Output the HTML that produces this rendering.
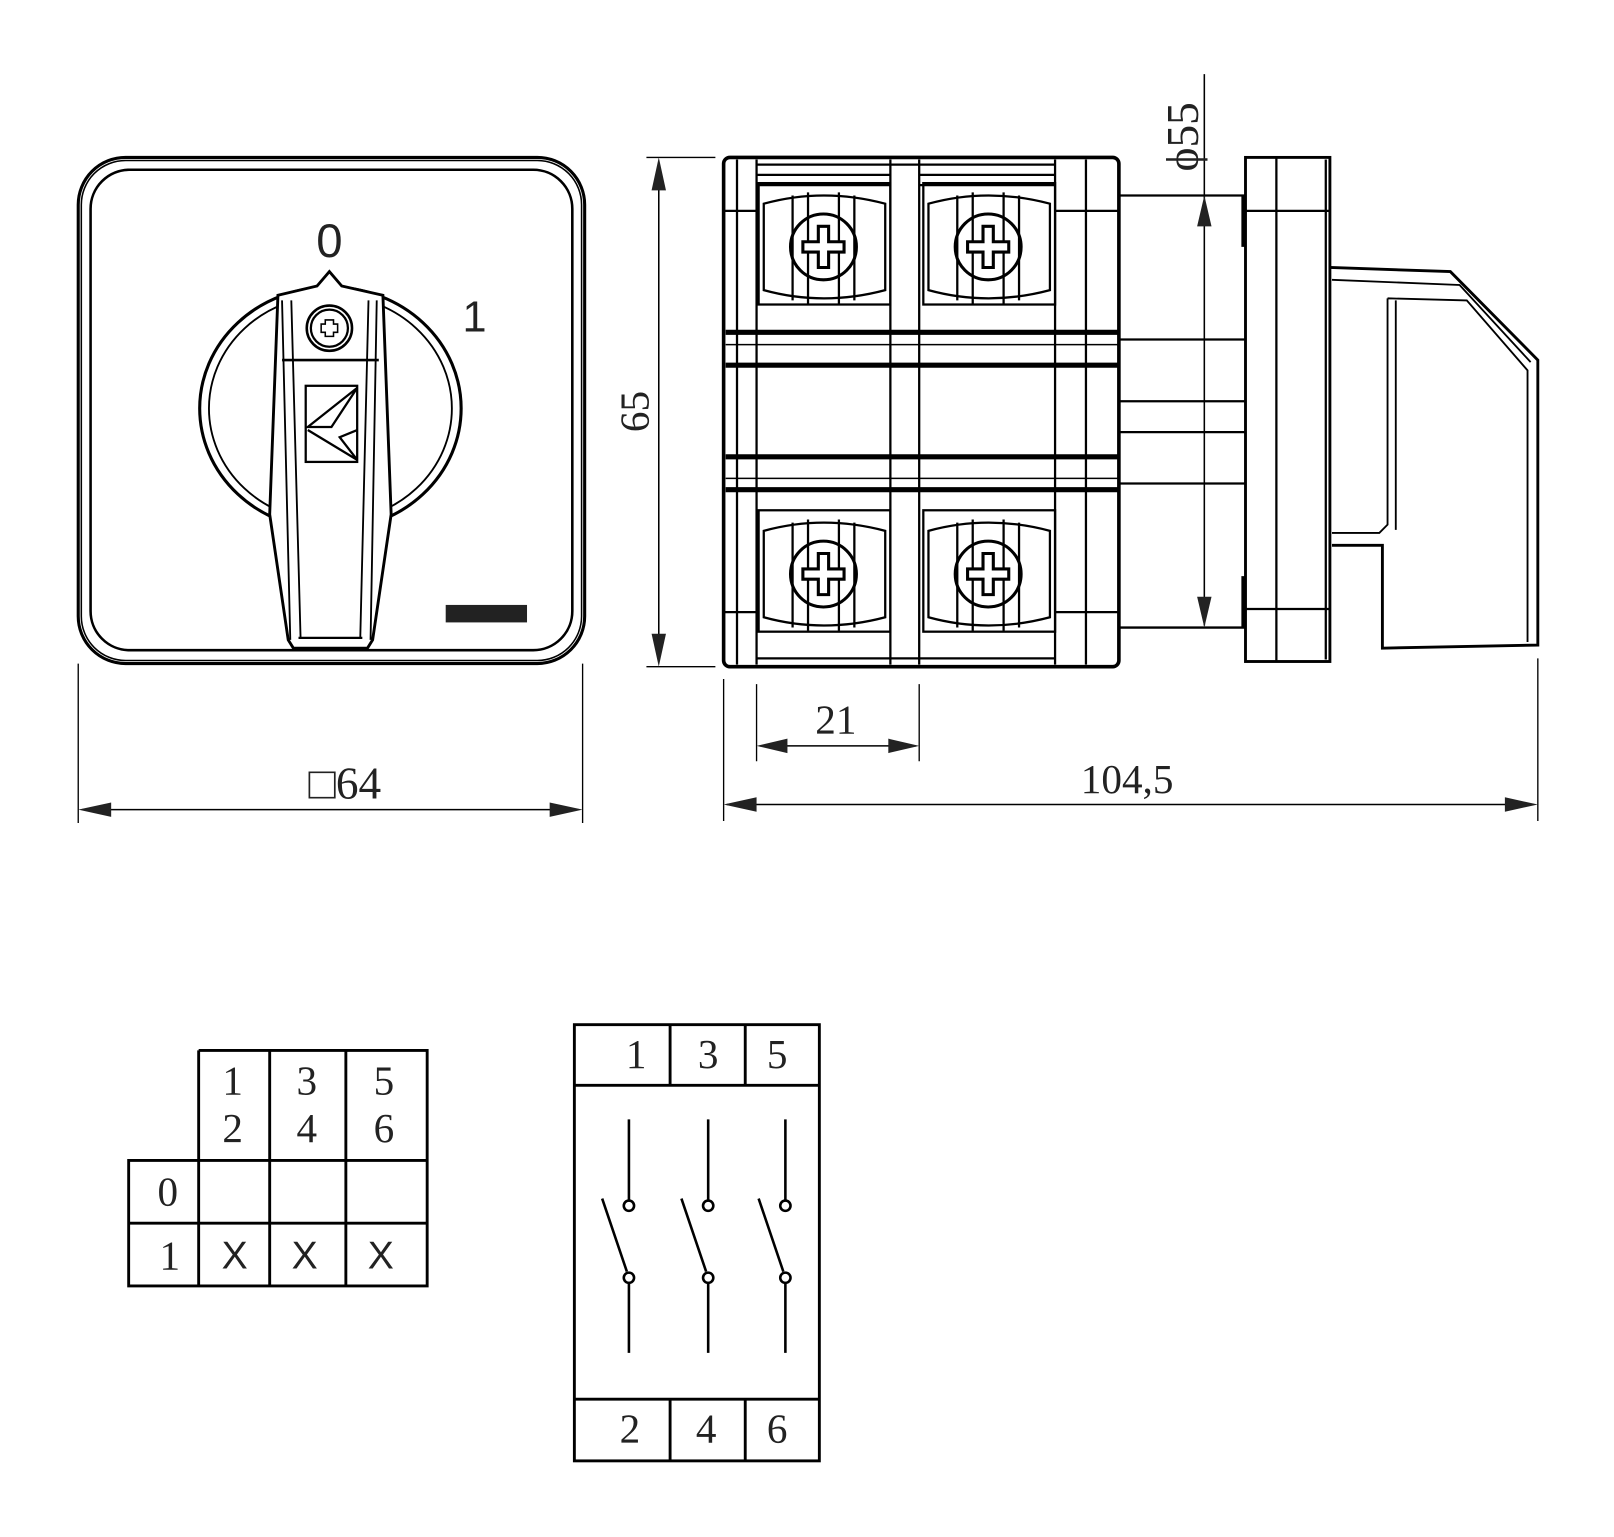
<!DOCTYPE html>
<html><head><meta charset="utf-8"><style>
html,body{margin:0;padding:0;background:#fff;}
svg{display:block;}
text{font-family:"Liberation Serif",serif;fill:#222;}
.s{font-family:"Liberation Sans",sans-serif;}
</style></head><body>
<svg width="1614" height="1537" viewBox="0 0 1568 1494" preserveAspectRatio="none" xmlns="http://www.w3.org/2000/svg">
<g fill="none" stroke="#000" stroke-width="2.2">
<!-- FRONT VIEW -->
<rect x="76" y="153" width="492" height="492" rx="46" stroke-width="3"/>
<rect x="79" y="156" width="486" height="486" rx="43" stroke-width="1.5"/>
<rect x="88" y="165" width="468" height="467" rx="38" stroke-width="2.5"/>
<path d="M76 800 V645 M566 800 V645" stroke-width="1.3"/>
<line x1="80" y1="787" x2="562" y2="787" stroke-width="1.5"/>
<path d="M76 787 L108 780 L108 794 Z M566 787 L534 780 L534 794 Z" fill="#222" stroke="none"/>
<!-- knob -->
<ellipse cx="321" cy="397" rx="127" ry="118" stroke-width="3"/>
<ellipse cx="321" cy="397" rx="118" ry="110" stroke-width="1.8"/>
<path d="M270 287 L308 278 L320 264 L332 278 L372 287 L380 500 L362 622 L357 630 L285 630 L280 622 L262 500 Z" stroke-width="2.8" fill="#fff"/>
<path d="M283 292 L292 620 M358 292 L350 620 M274 292 L282 622 M366 292 L360 622" stroke-width="1.8"/>
<line x1="274" y1="350" x2="368" y2="350" stroke-width="2.5"/>
<line x1="290" y1="620" x2="352" y2="620"/>
<circle cx="320" cy="319" r="22" stroke-width="2.5"/>
<circle cx="320" cy="319" r="18"/>
<path d="M316 311 h8 v4 h4 v8 h-4 v4 h-8 v-4 h-4 v-8 h4 Z" stroke-width="1.5"/>
<rect x="297" y="375" width="50" height="74"/>
<path d="M347 377 L299 415 L322 415 L347 377 M299 418 L347 447 L330 425 L347 418"/>
<rect x="433" y="588" width="79" height="17" fill="#222" stroke="none"/>

<!-- SIDE VIEW -->
<rect x="703" y="153" width="384" height="495" rx="6" stroke-width="3.5"/>
<path d="M716 155 V646 M735 155 V646 M865 155 V646 M893 155 V646 M1025 155 V646 M1055 155 V646"/>
<path d="M735 160 H1025 M735 170 H865 M893 170 H1025 M735 180 H865 M893 180 H1025 M703 205 H735 M1025 205 H1087 M703 595 H735 M1025 595 H1087 M735 640 H1025"/>
<path d="M705 323 H1087 M705 355 H1087 M705 444 H1087 M705 476 H1087" stroke-width="5"/>
<path d="M705 335 H1087 M705 465 H1087" stroke-width="1.5"/>
<!-- terminals -->
<g id="t1">
<rect x="737" y="178" width="128" height="118"/>
<path d="M742 198 Q800 182 860 198 V282 Q800 298 742 282 Z"/>
<path d="M770 190 V292 M785 187 V295 M815 187 V295 M830 190 V292"/>
<circle cx="800" cy="240" r="32" stroke-width="3"/>
<path d="M795 220 h10 v15 h15 v10 h-15 v15 h-10 v-15 h-15 v-10 h15 Z" stroke-width="3" fill="#fff"/>
</g>
<use href="#t1" x="160"/>
<use href="#t1" transform="translate(0,318)"/>
<use href="#t1" transform="translate(160,318)"/>
<!-- shaft -->
<path d="M1087 190 H1210 M1087 610 H1210 M1087 330 H1210 M1087 390 H1210 M1087 420 H1210 M1087 470 H1210"/>
<!-- flange -->
<rect x="1210" y="153" width="82" height="490" stroke-width="2.8"/>
<path d="M1240 153 V643 M1210 205 H1292 M1210 592 H1292 M1288 155 V641"/>
<path d="M1208 190 V240 M1208 560 V610" stroke-width="4"/>
<!-- handle -->
<path d="M1292 260 L1409 264 L1494 350 L1494 627 L1343 630 L1343 530 L1294 530" stroke-width="2.8"/>
<path d="M1294 272 L1418 277 L1487 352 M1348 290 L1425 292 L1484 360 L1484 624 M1348 290 V510 L1340 518 L1294 518 M1356 292 V515" stroke-width="1.8"/>
<!-- dim 65 -->
<path d="M628 153 H695 M628 648 H695" stroke-width="1.3"/>
<line x1="640" y1="158" x2="640" y2="643" stroke-width="1.5"/>
<path d="M640 153 L633 185 L647 185 Z M640 648 L633 616 L647 616 Z" fill="#222" stroke="none"/>
<!-- dim 55 -->
<line x1="1170" y1="72" x2="1170" y2="608" stroke-width="1.5"/>
<path d="M1170 190 L1163 220 L1177 220 Z M1170 610 L1163 580 L1177 580 Z" fill="#222" stroke="none"/>
<!-- dim 21 -->
<path d="M735 665 V740 M893 665 V740" stroke-width="1.3"/>
<line x1="738" y1="725" x2="890" y2="725" stroke-width="1.5"/>
<path d="M735 725 L765 718 L765 732 Z M893 725 L863 718 L863 732 Z" fill="#222" stroke="none"/>
<!-- dim 104,5 -->
<path d="M703 660 V798 M1494 640 V798" stroke-width="1.3"/>
<line x1="706" y1="782" x2="1490" y2="782" stroke-width="1.5"/>
<path d="M703 782 L735 775 L735 789 Z M1494 782 L1462 775 L1462 789 Z" fill="#222" stroke="none"/>

<!-- TABLE 1 -->
<g stroke-width="2.8">
<path d="M193 1021 H415 V1250 H125 V1128 H415 M125 1189 H415 M193 1021 V1250 M262 1021 V1250 M336 1021 V1250"/>
</g>
<!-- TABLE 2 -->
<g stroke-width="2.8">
<rect x="558" y="996" width="238" height="424"/>
<path d="M558 1055 H796 M558 1360 H796 M651 996 V1055 M724 996 V1055 M651 1360 V1420 M724 1360 V1420"/>
</g>
<g stroke-width="2.5">
<path d="M611 1088 V1166 M611 1248 V1315 M585 1165 L609 1236"/>
<path d="M688 1088 V1166 M688 1248 V1315 M662 1165 L686 1236"/>
<path d="M763 1088 V1166 M763 1248 V1315 M737 1165 L761 1236"/>
<circle cx="611" cy="1172" r="5"/><circle cx="611" cy="1242" r="5"/>
<circle cx="688" cy="1172" r="5"/><circle cx="688" cy="1242" r="5"/>
<circle cx="763" cy="1172" r="5"/><circle cx="763" cy="1242" r="5"/>
</g>
</g>

<!-- TEXT -->
<text x="335" y="776" font-size="44" text-anchor="middle">□64</text>
<text class="s" x="320" y="250" font-size="46" text-anchor="middle" font-weight="300">0</text>
<text class="s" x="461" y="322" font-size="42" text-anchor="middle">1</text>
<text x="630" y="400" font-size="40" text-anchor="middle" transform="rotate(-90 630 400)">65</text>
<text x="1164" y="133" font-size="44" text-anchor="middle" transform="rotate(-90 1164 133)">ϕ55</text>
<text x="812" y="713" font-size="40" text-anchor="middle">21</text>
<text x="1095" y="771" font-size="40" text-anchor="middle">104,5</text>

<g font-size="40" text-anchor="middle">
<text x="226" y="1064">1</text><text x="226" y="1110">2</text>
<text x="298" y="1064">3</text><text x="298" y="1110">4</text>
<text x="373" y="1064">5</text><text x="373" y="1110">6</text>
<text x="163" y="1172">0</text><text x="165" y="1234">1</text>
<text class="s" x="228" y="1233" font-size="38">X</text>
<text class="s" x="296" y="1233" font-size="38">X</text>
<text class="s" x="370" y="1233" font-size="38">X</text>
<text x="618" y="1038">1</text><text x="688" y="1038">3</text><text x="755" y="1038">5</text>
<text x="612" y="1402">2</text><text x="686" y="1402">4</text><text x="755" y="1402">6</text>
</g>
</svg>
</body></html>
